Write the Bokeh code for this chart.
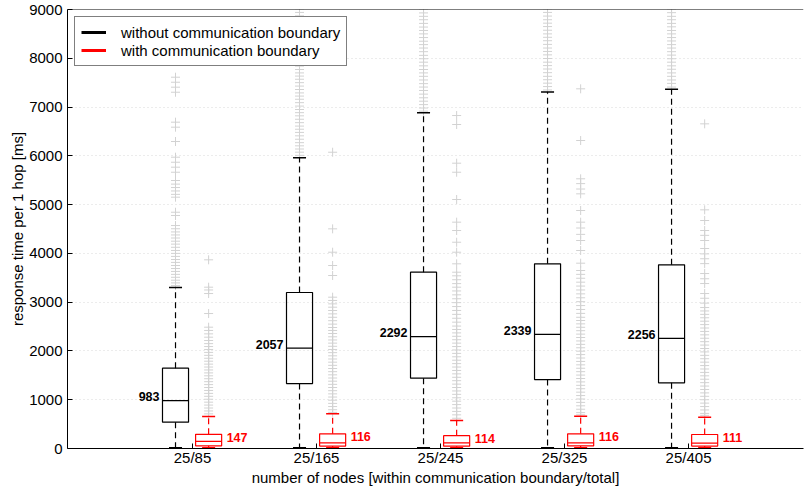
from bokeh.plotting import figure
from bokeh.models import (ColumnDataSource, Range1d, FixedTicker,
                          Legend, LegendItem, Span)
from bokeh.core.properties import value
from bokeh.embed import file_html
from bokeh.resources import INLINE

# ---------------- data ----------------
groups = ["25/85", "25/165", "25/245", "25/325", "25/405"]
positions = [1, 2, 3, 4, 5]

# without communication boundary (black)
black_q1 = [539, 1332, 1441, 1414, 1346]
black_med = [983, 2057, 2292, 2339, 2256]
black_q3 = [1646, 3198, 3615, 3786, 3766]
black_whi = [3300, 5962, 6882, 7310, 7366]
black_wlo = [12, 12, 12, 12, 12]

# with communication boundary (red)
red_q1 = [55, 50, 48, 52, 50]
red_med = [147, 116, 114, 116, 111]
red_q3 = [290, 300, 262, 300, 287]
red_whi = [656, 711, 574, 660, 642]
red_wlo = [8, 8, 8, 8, 8]

black_out_1 = [7612, 7509, 7407, 7304, 6690, 6587, 6294, 5972, 5869, 5767, 5664, 5494,
               5420, 5350, 5280, 5210, 5152, 4844, 4777, 4571, 4505, 4440, 4378, 4315,
               4250, 4190, 4125, 4060, 4000, 3938, 3875, 3815, 3752, 3690, 3630, 3570,
               3510, 3450, 3395, 3340]
black_out_2 = [9080, 9010, 8940, 8870, 8800, 8730, 8660, 8590, 8520, 8450, 8385, 8320,
               8250, 8180, 8110, 8045, 7980, 7910, 7840, 7770, 7700, 7635, 7570, 7500,
               7430, 7360, 7290, 7225, 7160, 7090, 7020, 6950, 6885, 6820, 6750, 6680,
               6610, 6545, 6480, 6410, 6340, 6270, 6205, 6140, 6075, 6010]
black_out_3 = [9080, 9005, 8930, 8860, 8790, 8715, 8640, 8570, 8500, 8425, 8350, 8280,
               8210, 8135, 8060, 7990, 7920, 7845, 7770, 7700, 7630, 7555, 7480, 7410,
               7340, 7265, 7190, 7120, 7050, 6980, 6915]
black_out_4 = [9080, 9010, 8940, 8865, 8790, 8720, 8650, 8575, 8500, 8430, 8360, 8285,
               8210, 8140, 8070, 7995, 7920, 7850, 7780, 7705, 7630, 7560, 7490, 7420,
               7350]
black_out_5 = [9080, 9005, 8935, 8860, 8790, 8715, 8645, 8570, 8500, 8425, 8355, 8280,
               8210, 8135, 8065, 7990, 7920, 7845, 7775, 7700, 7630, 7555, 7485, 7410]

red_out_1 = [3868, 3307, 3250, 3177, 2767, 2487, 2420, 2350, 2282, 2214, 2150, 2090,
             2030, 1970, 1910, 1850, 1790, 1730, 1670, 1610, 1550, 1490, 1430, 1370,
             1310, 1250, 1190, 1130, 1070, 1010, 950, 890, 830, 770, 710]
red_out_2 = [6074, 4503, 4024, 3752, 3547, 3102, 3035, 2965, 2897, 2829, 2760, 2690,
             2620, 2550, 2480, 2420, 2357, 2290, 2225, 2160, 2095, 2030, 1965, 1900,
             1835, 1770, 1705, 1640, 1575, 1510, 1445, 1380, 1315, 1250, 1185, 1120,
             1055, 990, 925, 860, 795, 740]
red_out_3 = [6826, 6642, 5849, 5664, 5105, 4640, 4469, 4229, 4024, 3786, 3614, 3540,
             3460, 3380, 3307, 3230, 3150, 3070, 2990, 2910, 2830, 2750, 2670, 2590,
             2510, 2440, 2370, 2300, 2230, 2160, 2090, 2020, 1950, 1880, 1810, 1740,
             1670, 1600, 1530, 1460, 1390, 1320, 1250, 1180, 1110, 1040, 970, 900,
             830, 760, 690, 620]
red_out_4 = [7374, 6314, 5529, 5430, 5320, 5221, 4879, 4640, 4520, 4390, 4264, 4059,
             3799, 3649, 3570, 3490, 3410, 3330, 3250, 3170, 3090, 3010, 2930, 2850,
             2770, 2690, 2624, 2555, 2485, 2415, 2345, 2275, 2205, 2135, 2065, 1995,
             1925, 1855, 1785, 1715, 1645, 1575, 1505, 1435, 1365, 1295, 1225, 1155,
             1085, 1015, 945, 875, 805, 735, 690]
red_out_5 = [6656, 4893, 4674, 4469, 4370, 4264, 4100, 3990, 3890, 3790, 3587, 3480,
             3382, 3177, 3080, 2980, 2890, 2820, 2750, 2680, 2610, 2540, 2470, 2400,
             2330, 2260, 2190, 2120, 2050, 1980, 1910, 1840, 1770, 1700, 1630, 1560,
             1490, 1420, 1350, 1280, 1210, 1140, 1070, 1000, 930, 860, 790, 720, 680]

black_outliers = [black_out_1, black_out_2, black_out_3, black_out_4, black_out_5]
red_outliers = [red_out_1, red_out_2, red_out_3, red_out_4, red_out_5]

y_ticks = [0, 1000, 2000, 3000, 4000, 5000, 6000, 7000, 8000, 9000]

# ---------------- layout / style ----------------
BLACK_OFF = -0.137
RED_OFF = 0.13
BOX_W = 0.21
CAP_W = 0.105
FONT = "Liberation Sans"
OUT_COLOR = "#d2d2d2"
RED = "#ff0000"

p = figure(frame_width=736, frame_height=439,
           x_range=Range1d(-0.008, 5.927), y_range=Range1d(0, 9000),
           output_backend="svg", toolbar_location=None,
           min_border_left=67, min_border_right=1, min_border_top=9,
           min_border_bottom=0)
p.outline_line_color = None
p.background_fill_color = "white"

# axes
xa = p.xaxis[0]
xa.ticker = FixedTicker(ticks=positions)
xa.major_label_overrides = {pos: g for pos, g in zip(positions, groups)}
xa.axis_label = "number of nodes [within communication boundary/total]"
ya = p.yaxis[0]
ya.ticker = FixedTicker(ticks=y_ticks)
ya.axis_label = "response time per 1 hop [ms]"
for ax in (xa, ya):
    ax.major_tick_in = 5
    ax.major_tick_out = 0
    ax.minor_tick_line_color = None
    ax.axis_line_color = "black"
    ax.major_tick_line_color = "black"
    ax.major_label_text_font = FONT
    ax.major_label_text_font_size = "15px"
    ax.major_label_text_color = "black"
    ax.axis_label_text_font = FONT
    ax.axis_label_text_font_size = "15px"
    ax.axis_label_text_font_style = "normal"
    ax.axis_label_text_color = "black"
xa.major_label_standoff = 0
xa.axis_label_standoff = 0
ya.major_label_standoff = 5
ya.axis_label_standoff = 0

p.xgrid.grid_line_color = None
p.ygrid.grid_line_color = "#d8d8d8"
p.ygrid.grid_line_dash = "1 3"
p.ygrid.ticker = FixedTicker(ticks=y_ticks)

# top border of the axes box
p.add_layout(Span(location=9000, dimension="width", line_color="black", line_width=1))

# ---------------- outliers ----------------
ox, oy = [], []
for pos, outs in zip(positions, black_outliers):
    ox += [pos + BLACK_OFF] * len(outs)
    oy += outs
for pos, outs in zip(positions, red_outliers):
    ox += [pos + RED_OFF] * len(outs)
    oy += outs
p.scatter(ox, oy, marker="cross", size=9, line_color=OUT_COLOR, line_width=1)


def draw_boxes(off, q1, med, q3, whi, wlo, color):
    xs = [pos + off for pos in positions]
    src = ColumnDataSource(dict(x=xs, q1=q1, med=med, q3=q3, whi=whi, wlo=wlo,
                                x0=[x - BOX_W / 2 for x in xs], x1=[x + BOX_W / 2 for x in xs],
                                c0=[x - CAP_W / 2 for x in xs], c1=[x + CAP_W / 2 for x in xs]))
    # whiskers
    p.segment(x0="x", y0="q3", x1="x", y1="whi", source=src, line_color=color,
              line_width=1.2, line_dash="6 4")
    p.segment(x0="x", y0="q1", x1="x", y1="wlo", source=src, line_color=color,
              line_width=1.2, line_dash="6 4")
    # caps
    p.segment(x0="c0", y0="whi", x1="c1", y1="whi", source=src, line_color=color, line_width=1.5)
    p.segment(x0="c0", y0="wlo", x1="c1", y1="wlo", source=src, line_color=color, line_width=2)
    # boxes
    p.quad(left="x0", right="x1", bottom="q1", top="q3", source=src, fill_alpha=0,
           line_color=color, line_width=1.2)
    # medians
    p.segment(x0="x0", y0="med", x1="x1", y1="med", source=src, line_color=color, line_width=1.2)
    return src


draw_boxes(BLACK_OFF, black_q1, black_med, black_q3, black_whi, black_wlo, "black")
draw_boxes(RED_OFF, red_q1, red_med, red_q3, red_whi, red_wlo, RED)

# median labels
p.text(x=[pos + BLACK_OFF - BOX_W / 2 for pos in positions], y=black_med,
       text=[str(m) for m in black_med], text_font=value(FONT), text_font_style="bold",
       text_font_size="12.5px", text_align="right", text_baseline="middle",
       text_color="black", x_offset=-3, y_offset=-4)
p.text(x=[pos + RED_OFF + BOX_W / 2 for pos in positions], y=red_q3,
       text=[str(m) for m in red_med], text_font=value(FONT), text_font_style="bold",
       text_font_size="12.5px", text_align="left", text_baseline="middle",
       text_color=RED, x_offset=5, y_offset=3)

# legend (proxy lines with a single undefined point, so nothing is drawn in the plot)
lb = p.line(x=[float("nan")], y=[float("nan")], line_color="black", line_width=3)
lr = p.line(x=[float("nan")], y=[float("nan")], line_color=RED, line_width=3)
legend = Legend(items=[LegendItem(label="without communication boundary", renderers=[lb]),
                       LegendItem(label="with communication boundary", renderers=[lr])],
                location="top_left")
legend.margin = 7
legend.padding = 6
legend.spacing = 0
legend.glyph_width = 25
legend.glyph_height = 18
legend.label_height = 18
legend.label_standoff = 15
legend.label_text_font = FONT
legend.label_text_font_size = "15px"
legend.label_text_color = "black"
legend.border_line_color = "black"
legend.border_line_width = 1
legend.background_fill_alpha = 1
p.add_layout(legend)

open("out.html", "w").write(file_html(p, INLINE))
